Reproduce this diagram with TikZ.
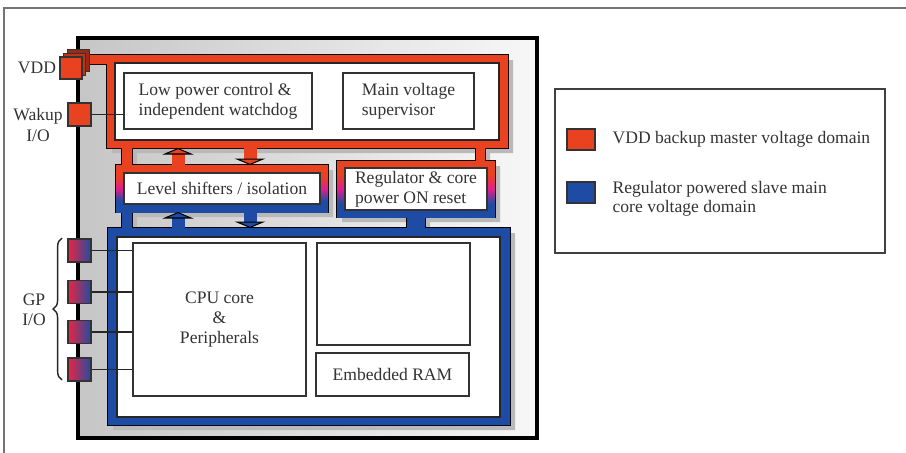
\documentclass[tikz,border=0pt]{standalone}
\usepackage{fontspec}
\setmainfont{Liberation Serif}
\usepackage{xcolor}
\usepackage{tikz}
\usetikzlibrary{arrows.meta, positioning, shadows, decorations.pathreplacing}

\definecolor{dred}{RGB}{232,66,32}
\definecolor{dblue}{RGB}{30,76,164}
\definecolor{dmag}{RGB}{226,30,140}
\definecolor{padred}{RGB}{236,36,64}
\pgfdeclareverticalshading{redblue}{100bp}{color(0bp)=(dblue); color(37bp)=(dblue); color(50bp)=(dmag); color(63bp)=(dred); color(100bp)=(dred)}

\newcommand{\bkpshape}{(107,55) rectangle (508,148) (122,145) rectangle (132,168) (476,145) rectangle (485,164)}
\newcommand{\vddfeed}{(86,55) rectangle (110,64)}
\newcommand{\lvlband}{(116,165) rectangle (328,212)}
\newcommand{\regband}{(337,161) rectangle (495,217)}
\newcommand{\coreshape}{(108,228) rectangle (510,425) (122,209) rectangle (132,231) (407,213) rectangle (425,231)}

\begin{document}
\begin{tikzpicture}[x=0.02cm, y=-0.02cm,
    txt/.style={font=\fontsize{10}{11.5}\selectfont, text=black!80, inner sep=1pt},
    blk/.style={txt, rectangle, draw=black!80, line width=0.9pt, fill=white, inner sep=0pt},
    pad/.style={rectangle, draw=black!80, line width=0.6pt, minimum size=0.46cm, inner sep=0pt},
    wire/.style={black!85, line width=0.7pt},
    band/.style={draw=black, line width=1.5pt},
    redarrow/.style={dred, line width=0.26cm, -{Triangle[width=0.62cm, length=0.13cm, line width=0.6pt, fill=dred, color=black]}},
    bluearrow/.style={dblue, line width=0.26cm, -{Triangle[width=0.62cm, length=0.13cm, line width=0.6pt, fill=dblue, color=black]}}]

\useasboundingbox (0,0) rectangle (906,453);
\draw[black!55, line width=0.8pt] (4,453) -- (4,8) -- (906,8);

\draw[line width=1.8pt, left color=gray!45, right color=gray!6] (78,38) rectangle (537,438);

\fill[gray!55, shift={(5,5)}] \bkpshape \lvlband \regband \coreshape;
\draw[band] \bkpshape \vddfeed \lvlband \regband \coreshape;
\fill[dred] \bkpshape \vddfeed;
\shade[shading=redblue] \lvlband;
\shade[shading=redblue] \regband;
\fill[dblue] \coreshape;
\filldraw[fill=white, draw=black!85, line width=0.8pt] (115,63) rectangle (499,140) (117,237) rectangle (500,417);

\node[blk, minimum width=3.76cm, minimum height=1.12cm, align=left] (lowpwr) at (218,101) {Low power control \&\\independent watchdog};
\node[blk, minimum width=2.62cm, minimum height=1.12cm, align=left] (supv) at (408.5,101) {Main voltage\\supervisor};
\node[blk, minimum width=3.92cm, minimum height=0.62cm] (lvl) at (222,188.5) {Level shifters / isolation};
\node[blk, minimum width=2.84cm, minimum height=0.84cm, align=left] (reg) at (416,189) {Regulator \& core\\power ON reset};
\node[blk, minimum width=3.46cm, minimum height=3.06cm, align=center] (cpu) at (219.5,319.5) {CPU core\\\&\\Peripherals};
\node[blk, minimum width=3.06cm, minimum height=2.04cm] (flash) at (393.5,294) {};
\node[blk, minimum width=3.06cm, minimum height=0.86cm] (ram) at (392.5,374.5) {Embedded RAM};

\coordinate (redup0) at (178,165);
\coordinate (redup1) at (178,148);
\coordinate (reddn0) at (250,148);
\coordinate (reddn1) at (250,165);
\coordinate (blueup0) at (178,228);
\coordinate (blueup1) at (178,212);
\coordinate (bluedn0) at (250,212);
\coordinate (bluedn1) at (250,228);
\draw[redarrow] (redup0) -- (redup1);
\draw[redarrow] (reddn0) -- (reddn1);
\draw[bluearrow] (blueup0) -- (blueup1);
\draw[bluearrow] (bluedn0) -- (bluedn1);

\node[pad, fill=dred, minimum size=0.44cm,
      copy shadow={shadow xshift=4.4pt, shadow yshift=4.4pt, fill=dred!65!black, draw=black!80},
      copy shadow={shadow xshift=2.2pt, shadow yshift=2.2pt, fill=dred!80!black, draw=black!80}] (vdd) at (71,68) {};
\node[pad, fill=dred] (wkup) at (79.5,114.5) {};
\foreach \y [count=\i] in {250.5,292,332,369.5}
    \node[pad, left color=padred, middle color=dmag, right color=dblue] (gp\i) at (79.5,\y) {};

\draw[wire] (wkup.east) -- (wkup.east -| lowpwr.west);
\foreach \i in {1,...,4}
    \draw[wire] (gp\i.east) -- (gp\i.east -| cpu.west);

\node[txt] (vddlbl) at (37,68) {VDD};
\node[txt, align=center] (wklbl) at (38,125) {Wakup\\I/O};
\node[txt, align=center] (gplbl) at (34,310) {GP\\I/O};
\draw[decorate, decoration={brace, amplitude=5pt}, black!85, line width=0.8pt] (62,380) -- (62,238);

\node[draw=black!75, line width=1pt, minimum width=6.6cm, minimum height=3.28cm] (legend) at (720,171) {};
\node[pad, fill=dred, minimum width=0.56cm, minimum height=0.42cm] (keyred) at (581,139.5) {};
\node[txt, right=0.3cm of keyred] (keyredtxt) {VDD backup master voltage domain};
\node[pad, fill=dblue, minimum width=0.56cm, minimum height=0.42cm] (keyblue) at (581,192.5) {};
\node[txt, font=\fontsize{10}{10.5}\selectfont, align=left, right=0.3cm of keyblue, yshift=-3.5pt] (keybluetxt) {Regulator powered slave main\\core voltage domain};

\end{tikzpicture}
\end{document}
